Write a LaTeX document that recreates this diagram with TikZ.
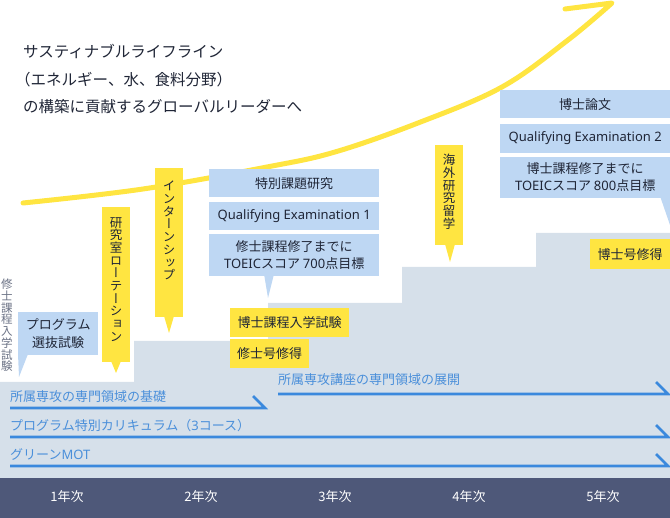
\documentclass[tikz,border=0pt]{standalone}
\usepackage{fontspec}
\setmainfont{Noto Sans CJK JP}
\newfontfamily\vertjp[RawFeature=+vert]{Noto Sans CJK JP}
\newfontfamily\latin{Noto Sans}
\usetikzlibrary{positioning,calc}
\definecolor{Ink}{HTML}{1F2536}
\definecolor{MarkYellow}{HTML}{FFE541}
\definecolor{BoxBlue}{HTML}{BED7F3}
\definecolor{StepGray}{HTML}{D6E0EA}
\definecolor{BarNavy}{HTML}{4E5879}
\definecolor{LineBlue}{HTML}{3B89DD}
\definecolor{TextBlue}{HTML}{4A8FDA}
\definecolor{NoteGray}{HTML}{6B7285}
\newcommand{\CourseRow}[6][6]{%
  \node[coursetext] (#2) at (#3,#5-#1) {#6};%
  \draw[courseline] (#3,#5) -- (#4,#5) -- ++(-12,-12);%
}

\begin{document}
\begin{tikzpicture}[x=1pt,y=-1pt,
  titletext/.style={text=Ink,inner sep=0pt,anchor=base west,font=\fontsize{15.5}{20}\selectfont},
  infobox/.style={fill=BoxBlue,text=Ink,inner sep=0pt,align=center,minimum width=170,font=\fontsize{13}{17}\selectfont},
  markbox/.style={fill=MarkYellow,text=Ink,inner sep=0pt,align=center,font=\fontsize{13}{17}\selectfont},
  vbar/.style={fill=MarkYellow,inner sep=0pt,minimum width=28,anchor=north west},
  vtext/.style={text=Ink,inner sep=0pt,align=center,font=\vertjp\fontsize{12.5}{12.7}\selectfont},
  courseline/.style={draw=LineBlue,line width=2.6pt},
  coursetext/.style={text=TextBlue,inner sep=0pt,anchor=base west,font=\fontsize{13}{15}\selectfont},
  yearlabel/.style={text=white,font=\fontsize{13}{15}\selectfont}]
\useasboundingbox (0,0) rectangle (670,518);
% staircase and year bar
\fill[StepGray] (0,478) |- (134,382) |- (268,341) |- (402,303) |- (536,267) |- (670,233) -- (670,478) -- cycle;
\fill[BarNavy] (0,478) rectangle (670,518);
\foreach \n [count=\i from 0] in {1,2,3,4,5}
  \node[yearlabel] (year\n) at (67+134*\i,497) {\n{}年次};
% growth arrow
\draw[MarkYellow,line width=5pt,line cap=round,line join=round]
  plot[smooth,tension=0.6] coordinates {(23,203) (143,189) (267,167) (335,152) (418,123) (502,87) (568,40) (612,3)} -- (565,9);
% goal
\node[titletext] (title1) at (23,58) {サスティナブルライフライン};
\node[titletext] (title2) at (15,85.5) {（エネルギー、水、食料分野）};
\node[titletext] (title3) at (23,113) {の構築に貢献するグローバルリーダーへ};
% year 1
\node[text=NoteGray,inner sep=0pt,align=center,anchor=north,font=\fontsize{11.5}{11.7}\selectfont] (mexam) at (7,279) {修\\士\\課\\程\\入\\学\\試\\験};
\node[infobox,minimum width=80,minimum height=43,anchor=north west,font=\fontsize{13}{18}\selectfont] (select) at (18,312) {プログラム\\選抜試験};
\fill[BoxBlue] (18,354) -- (28,354) -- (19,377) -- cycle;
\node[vbar,minimum height=155] (rotation) at (102,207) {};
\node[vtext,below=10pt of rotation.north] (rotationtext) {研\\究\\室\\ロ\\ー\\テ\\ー\\シ\\ョ\\ン};
\fill[MarkYellow] (111,361) -- (121,361) -- (116,373) -- cycle;
% year 2
\node[vbar,minimum height=149] (intern) at (155,168) {};
\node[vtext,below=13pt of intern.north] (interntext) {イ\\ン\\タ\\ー\\ン\\シ\\ッ\\プ};
\fill[MarkYellow] (164,316) -- (174,316) -- (169,333) -- cycle;
\node[infobox,minimum height=28,anchor=north west] (special) at (209,169) {特別課題研究};
\node[infobox,minimum height=28,below=4pt of special] (qe1) {\latin Qualifying Examination 1};
\node[infobox,minimum height=42,below=4pt of qe1] (toeic1) {修士課程修了までに\\{\latin TOEIC}スコア {\latin 700}点目標};
\fill[BoxBlue] (264,274) -- (274,274) -- (268,298) -- cycle;
\node[markbox,minimum width=119,minimum height=29,anchor=north west] (dentry) at (230,308) {博士課程入学試験};
\node[markbox,minimum width=79,minimum height=29,anchor=north west] (mdegree) at (230,339) {修士号修得};
% year 4
\node[vbar,minimum height=100] (abroad) at (435,145) {};
\node[vtext,below=9pt of abroad.north] (abroadtext) {海\\外\\研\\究\\留\\学};
\fill[MarkYellow] (445,244) -- (455,244) -- (450,262) -- cycle;
% year 5
\node[infobox,minimum height=28,anchor=north west] (thesis) at (500,90) {博士論文};
\node[infobox,minimum height=29,below=5pt of thesis] (qe2) {\latin Qualifying Examination 2};
\node[infobox,minimum height=41,below=4pt of qe2] (toeic2) {博士課程修了までに\\{\latin TOEIC}スコア {\latin 800}点目標};
\fill[BoxBlue] (660,196) -- (670,196) -- (670,225) -- cycle;
\node[markbox,minimum width=80,minimum height=30,anchor=north west] (ddegree) at (590,239) {博士号修得};
% curricula
\CourseRow{basics}{10}{265}{408}{所属専攻の専門領域の基礎}
\CourseRow[9]{advanced}{278}{668}{394}{所属専攻講座の専門領域の展開}
\CourseRow{program}{10}{668}{437}{プログラム特別カリキュラム（{\latin 3}コース）}
\CourseRow{mot}{10}{668}{466}{グリーン{\latin MOT}}
\end{tikzpicture}
\end{document}
